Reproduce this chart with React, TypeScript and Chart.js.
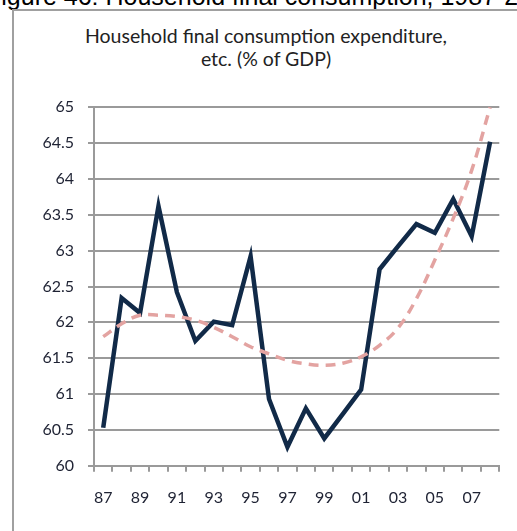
import React, { useEffect, useRef } from "react";
import { Chart, registerables } from "chart.js";

Chart.register(...registerables);

const years = ["87","88","89","90","91","92","93","94","95","96","97","98","99","00","01","02","03","04","05","06","07","08"];
const consumption = [60.53,62.34,62.13,63.62,62.42,61.74,62.01,61.96,62.92,60.93,60.26,60.8,60.38,60.72,61.06,62.74,63.06,63.37,63.25,63.72,63.2,64.52];
const trend = [61.8,61.98,62.1,62.1,62.08,62.03,61.93,61.8,61.66,61.56,61.47,61.42,61.4,61.43,61.52,61.68,61.92,62.33,62.87,63.45,64.12,65.0];
const yMin = 60;
const yMax = 65;
const yStep = 0.5;
const titleLine1 = "Household final consumption expenditure,";
const titleLine2 = "etc. (% of GDP)";
const caption = "Figure 46: Household final consumption, 1987-2008";

export default function App() {
  const ref = useRef<HTMLCanvasElement | null>(null);
  useEffect(() => {
    document.body.style.margin = "0";
    const ctx = ref.current!;
    const tickFont = { family: "Lato", size: 16 };
    const chart = new Chart(ctx, {
      type: "line",
      data: {
        labels: years,
        datasets: [
          {
            data: trend,
            borderColor: "#e3a3a1",
            borderWidth: 3.5,
            borderDash: [10, 7],
            pointRadius: 0,
            tension: 0.4,
            fill: false,
          },
          {
            data: consumption,
            borderColor: "#112a48",
            borderWidth: 4.5,
            pointRadius: 0,
            tension: 0,
            fill: false,
          },
        ],
      },
      options: {
        responsive: false,
        animation: false,
        clip: false as any,
        layout: { padding: { left: 0, right: 17.7, top: 96.3, bottom: 0 } },
        plugins: {
          legend: { display: false },
          title: { display: false },
          tooltip: { enabled: false },
        },
        scales: {
          x: {
            type: "category",
            offset: true,
            grid: {
              display: true,
              drawOnChartArea: false,
              drawTicks: true,
              tickLength: 6,
              offset: true,
              color: "#9a9a9a",
              lineWidth: 2,
            },
            border: { color: "#9a9a9a", width: 2 },
            ticks: {
              autoSkip: false,
              maxRotation: 0,
              padding: 17,
              color: "#1e2233",
              font: tickFont,
              callback: (_v: any, i: number) => (i % 2 === 0 ? years[i] : ""),
            },
            afterFit: (s: any) => {
              s.height = 65.3;
            },
          },
          y: {
            min: yMin,
            max: yMax,
            grid: { color: "#9a9a9a", lineWidth: 2, tickLength: 6 },
            border: { color: "#9a9a9a", width: 2 },
            ticks: {
              stepSize: yStep,
              padding: 14,
              color: "#1e2233",
              font: tickFont,
              callback: (v: any) => String(Math.round(Number(v) * 10) / 10),
            },
            afterFit: (s: any) => {
              s.width = 80;
            },
          },
        },
      },
    });
    return () => chart.destroy();
  }, []);

  const titleStyle: React.CSSProperties = {
    position: "absolute",
    left: 266 - 250,
    width: 500,
    textAlign: "center",
    fontFamily: "Lato",
    fontSize: 19.5,
    lineHeight: "24px",
    color: "#222",
    whiteSpace: "nowrap",
  };

  return (
    <div style={{ position: "absolute", left: 0, top: 0, width: 517, height: 531, overflow: "hidden", background: "#fff" }}>
      <div
        style={{
          position: "absolute",
          left: -14,
          top: -16,
          whiteSpace: "nowrap",
          fontFamily: "Liberation Sans",
          fontSize: 25,
          lineHeight: "25px",
          color: "#000",
        }}
      >
        {caption}
      </div>
      <div
        style={{
          position: "absolute",
          left: 12,
          top: 9,
          width: 520,
          height: 540,
          borderLeft: "2px solid #a0a0a0",
          borderTop: "2px solid #a0a0a0",
        }}
      />
      <div style={{ ...titleStyle, top: 23.5 }}>{titleLine1}</div>
      <div style={{ ...titleStyle, top: 46.5 }}>{titleLine2}</div>
      <canvas ref={ref} width={503} height={520} style={{ position: "absolute", left: 14, top: 11 }} />
    </div>
  );
}
